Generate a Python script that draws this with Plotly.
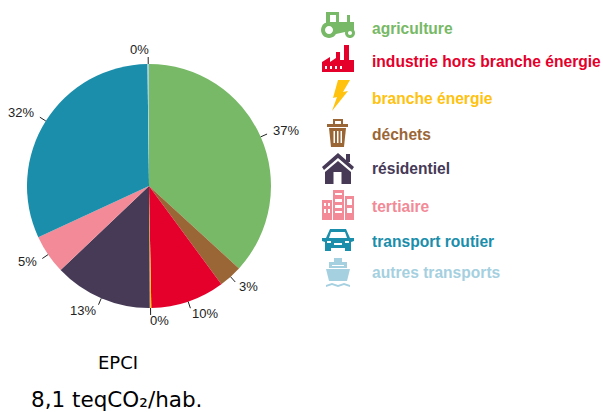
import math
import re
import plotly.graph_objects as go

W, H = 603, 412

# ---- data ----
categories = ["agriculture", "industrie hors branche énergie", "branche énergie", "déchets",
              "résidentiel", "tertiaire", "transport routier", "autres transports"]
legend_colors = ["#77B966", "#E4002B", "#FFC20E", "#9B6636", "#463A57", "#F28A97", "#1A8EAB", "#A5D0E0"]
slice_order = ["agriculture", "déchets", "industrie hors branche énergie", "branche énergie",
               "résidentiel", "tertiaire", "transport routier", "autres transports"]
slice_values = [36.8, 3.1, 9.8, 0.2, 13.0, 5.2, 31.7, 0.2]
title_line_1 = "EPCI"
title_line_2 = "8,1 teqCO₂/hab."

color_of = dict(zip(categories, legend_colors))
CX, CY, R = 149, 186, 122


def px(x):
    return x / W


def py(y):
    return 1 - y / H


def to_paper(path):
    """Convert an SVG path written in pixels to paper coordinates."""
    return re.sub(r"(-?[\d.]+),(-?[\d.]+)",
                  lambda m: f"{px(float(m[1])):.5f},{py(float(m[2])):.5f}", path)


def poly(*pts):
    return "M" + " L".join(f"{x},{y}" for x, y in pts) + " Z"


def rect(x0, y0, x1, y1):
    return poly((x0, y0), (x1, y0), (x1, y1), (x0, y1))


def circ(cx, cy, r):
    k = 0.5523 * r
    return (f"M{cx - r},{cy} C{cx - r},{cy - k} {cx - k},{cy - r} {cx},{cy - r} "
            f"C{cx + k},{cy - r} {cx + r},{cy - k} {cx + r},{cy} "
            f"C{cx + r},{cy + k} {cx + k},{cy + r} {cx},{cy + r} "
            f"C{cx - k},{cy + r} {cx - r},{cy + k} {cx - r},{cy} Z")


WHITE = "#FFFFFF"
G, Rd, Y, B, D, P, T, L = legend_colors

icons = [
    # tractor
    (G, rect(326, 12, 339, 15)), (G, rect(326, 12, 330, 24)), (G, rect(336, 12, 339, 24)),
    (G, poly((326, 22), (354, 22), (354, 30), (345, 32), (336, 34), (326, 28))),
    (G, rect(347, 15, 350, 23)), (G, circ(329, 30, 8)), (WHITE, circ(329, 30, 4)),
    (G, circ(350, 33, 5)), (WHITE, circ(350, 33, 2)),
    # factory
    (Rd, poly((322, 62), (330, 57), (330, 62), (336, 58), (336, 52), (340, 52), (340, 60),
              (344, 60), (344, 45), (349, 45), (349, 60), (354, 60), (354, 72), (322, 72))),
    (WHITE, rect(325, 66, 327, 69)), (WHITE, rect(330, 66, 332, 69)),
    (WHITE, rect(335, 66, 337, 69)), (WHITE, rect(340, 66, 342, 69)),
    # lightning
    (Y, poly((338, 80), (350, 80), (343, 92), (348, 91), (332, 111), (337, 97), (333, 98))),
    # bin
    (B, rect(333, 119, 343, 124)), (WHITE, rect(335, 121, 341, 124)),
    (B, rect(327, 124, 348, 127)),
    (B, poly((329, 128), (346, 128), (344, 147), (331, 147))),
    (WHITE, rect(333.5, 131, 335, 143)), (WHITE, rect(337, 131, 338.5, 143)),
    (WHITE, rect(340.5, 131, 342, 143)),
    # house
    (D, rect(346, 154, 350, 162)),
    (D, poly((338, 153), (354, 167), (352, 170), (338, 158), (324, 170), (322, 167))),
    (D, poly((338, 161), (351, 172), (351, 184), (325, 184), (325, 172))),
    (WHITE, rect(333.5, 172, 341.5, 184)),
    # tertiary
    (P, rect(322, 200, 332, 220)), (P, rect(333, 190, 344, 220)), (P, rect(345, 196, 354, 220)),
    (WHITE, rect(324, 203, 326, 206)), (WHITE, rect(328, 203, 330, 206)),
    (WHITE, rect(324, 209, 326, 213)), (WHITE, rect(328, 209, 330, 213)),
    (WHITE, rect(335, 193, 342, 195)), (WHITE, rect(335, 199, 342, 202)),
    (WHITE, rect(335, 205, 342, 208)), (WHITE, rect(335, 211, 342, 213)),
    (WHITE, rect(347, 199, 352, 205)), (WHITE, rect(347, 208, 352, 213)),
    # car
    (T, poly((330, 229), (346, 229), (350, 238), (354, 238), (354, 241), (351, 242), (351, 251),
             (345, 251), (345, 248), (331, 248), (331, 251), (325, 251), (325, 242), (322, 241),
             (322, 238), (326, 238))),
    (WHITE, poly((331, 232), (345, 232), (347, 238), (329, 238))),
    (WHITE, rect(327, 241, 331, 243)), (WHITE, rect(345, 241, 349, 243)),
    (WHITE, rect(334, 243, 342, 245)),
    # boat
    (L, rect(334, 258, 342, 263)), (L, rect(329, 262, 347, 268)),
    (WHITE, rect(332, 265, 344, 266)),
    (L, poly((326, 269), (350, 269), (347, 281), (329, 281))),
    (L, poly((326, 285), (332, 283), (338, 285), (344, 283), (350, 285),
             (350, 287), (344, 285), (338, 287), (332, 285), (326, 287))),
]

legend_y = [29, 62, 98, 134, 169, 206, 242, 272]

shapes = [dict(type="path", xref="paper", yref="paper", path=to_paper(p),
               fillcolor=c, line=dict(width=0), layer="above") for c, p in icons]

annotations = [
    dict(text=f"<b>{name}</b>", x=px(370), y=py(yy), xref="paper", yref="paper",
         xanchor="left", yanchor="middle", showarrow=False,
         font=dict(family="Liberation Sans", size=15.6, color=color_of[name]))
    for name, yy in zip(categories, legend_y)
]

total = sum(slice_values)
cum = 0
for value in slice_values:
    ang = math.radians((cum + value / 2) / total * 360)
    cum += value
    s, c = math.sin(ang), math.cos(ang)
    shapes.append(dict(type="line", xref="paper", yref="paper",
                       x0=px(CX + R * s), y0=py(CY - R * c),
                       x1=px(CX + (R + 7) * s), y1=py(CY - (R + 7) * c),
                       line=dict(color="#222222", width=1)))
    annotations.append(dict(text=f"{round(value / total * 100)}%",
                            x=px(CX + (R + 14) * s), y=py(CY - (R + 14) * c - 1),
                            xref="paper", yref="paper", showarrow=False,
                            xanchor="left" if s >= 0 else "right", yanchor="middle",
                            xshift=-2.5 if s >= 0 else 2.5,
                            font=dict(family="Liberation Sans", size=13, color="#222222")))

annotations.append(dict(text=title_line_1, x=px(118), y=py(362), xref="paper", yref="paper",
                        showarrow=False, xanchor="center", yanchor="middle",
                        font=dict(family="DejaVu Sans", size=18, color="#000000")))
annotations.append(dict(text=title_line_2, x=px(29), y=py(399), xref="paper", yref="paper",
                        showarrow=False, xanchor="left", yanchor="middle",
                        font=dict(family="DejaVu Sans", size=21.5, color="#000000")))

fig = go.Figure(go.Pie(
    labels=slice_order, values=slice_values, sort=False, direction="clockwise", rotation=0,
    marker=dict(colors=[color_of[n] for n in slice_order], line=dict(width=0)),
    textinfo="none", hoverinfo="label+percent", showlegend=False,
    domain=dict(x=[px(CX - R), px(CX + R)], y=[py(CY + R), py(CY - R)]),
))
fig.update_layout(width=W, height=H, margin=dict(l=0, r=0, t=0, b=0),
                  paper_bgcolor="white", plot_bgcolor="white",
                  shapes=shapes, annotations=annotations)
fig.write_html("out.html", post_script="document.body.style.margin='0';",
               config=dict(displayModeBar=False))
